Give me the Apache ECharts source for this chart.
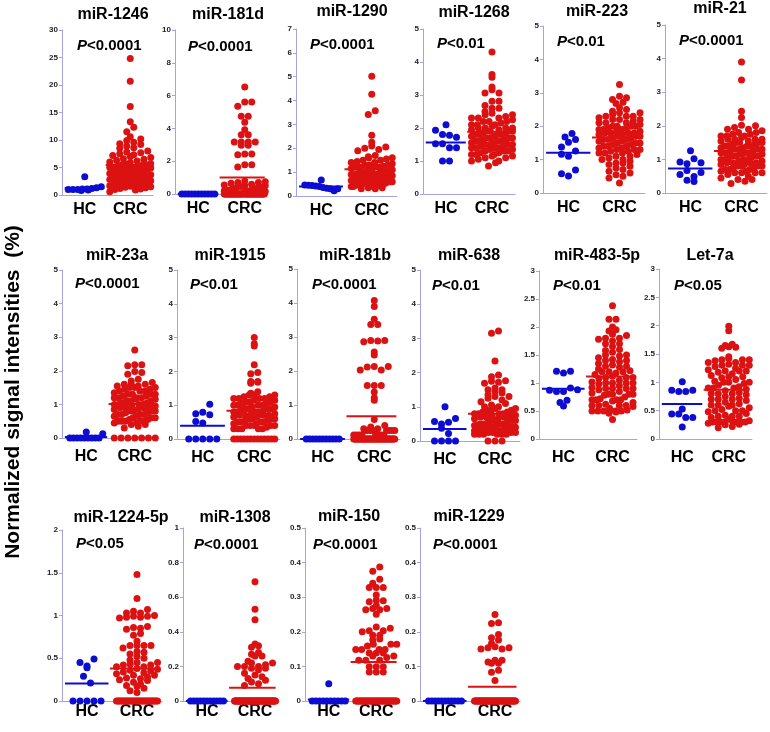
<!DOCTYPE html>
<html><head><meta charset="utf-8">
<script src="https://cdn.jsdelivr.net/npm/echarts@6/dist/echarts.min.js"></script>
<style>html,body{margin:0;padding:0;background:#fff}#c{width:770px;height:732px}</style>
</head><body><div id="c"></div>
<script>
// ---------- DATA ----------
const panelNames = ['miR-1246','miR-181d','miR-1290','miR-1268','miR-223','miR-21','miR-23a','miR-1915','miR-181b','miR-638','miR-483-5p','Let-7a','miR-1224-5p','miR-1308','miR-150','miR-1229'];
const pValues = ['<0.0001','<0.0001','<0.0001','<0.01','<0.01','<0.0001','<0.0001','<0.01','<0.0001','<0.01','<0.01','<0.05','<0.05','<0.0001','<0.0001','<0.0001'];
const yMaxes = [30,10,7,5,5,5,5,5,5,5,3,3,2,1,0.5,0.5];
const yIntervals = [5,2,1,1,1,1,1,1,1,1,0.5,0.5,0.5,0.2,0.1,0.1];
const groupLabels = ['HC','CRC'];

const hc_miR1246 = [0.8,0.9,1.0,1.0,1.0,1.1,1.1,1.2,1.3,1.5,3.3];
const crc_miR1246 = [24.8,20.7,16.1,13.3,12.3,11.5,10.6,10.2,9.9,9.6,9.3,9.2,8.9,8.6,8.5,
8.0,7.8,7.7,7.5,7.3,7.2,7.0,6.8,6.6,6.5,6.3,6.2,6.0,5.9,5.7,5.6,5.5,5.4,5.3,5.2,5.1,
5.0,4.9,4.8,4.7,4.6,4.5,4.4,4.3,4.2,4.1,4.0,3.9,3.8,3.7,3.6,3.5,3.4,3.3,3.2,3.1,3.0,
2.9,2.8,2.7,2.6,2.5,2.4,2.3,2.2,2.1,2.0,1.9,1.8,1.7,1.6,1.5,1.4,1.3,1.2,1.1,1.0,0.9,
5.5,5.0,4.5,4.0,3.5,3.0,3.9,3.5,3.0,0.6];

const hc_miR181d = [0,0,0,0,0,0,0,0,0,0,0];
const crc_miR181d = [6.52,5.61,5.61,5.35,4.74,4.74,4.37,3.92,3.62,3.62,3.17,3.17,3.17,3.17,2.97,2.97,2.44,2.44,2.4,1.79,1.79,1.65,
0.8,0.75,0.7,0.7,0.65,0.6,0.55,0.5,0.5,0.45,0.4,0.4,0.35,0.3,0.3,0.25,0.2,0.2,0.15,0.1,
0,0,0,0,0,0,0,0,0,0,0,0,0,0,0,0,0,0,0,0,0,0,0,0,0,0,0,0,0,0,0,0,0,0,0,0,0,0,0,0,0,0,0,0,0,0];

const hc_miR1290 = [0.67,0.46,0.45,0.44,0.42,0.40,0.36,0.32,0.30,0.22,0.30];
const crc_miR1290 = [5.02,4.26,3.57,3.42,2.55,2.25,2.1,2.05,2.0,1.95,1.9,
1.7,1.65,1.6,1.6,1.55,1.5,1.5,1.45,1.4,1.4,1.35,1.3,1.3,1.25,1.2,1.2,1.15,1.1,1.1,1.05,1.0,
1.0,0.95,0.95,0.9,0.9,0.85,0.85,0.8,0.8,0.75,0.75,0.7,0.7,0.65,0.65,0.6,0.6,0.55,0.55,0.5,0.5,
0.45,0.45,0.4,0.4,0.35,0.35,0.3,
1.2,1.1,1.0,1.0,0.9,0.9,0.8,1.3,1.2,1.1,1.0,0.9,0.8,0.7,0.6,0.6,0.5,0.5,0.4,0.4,0.3,0.7,0.7,0.6,0.6,0.5,0.5,0.65];

const hc_miR1268 = [2.1,1.93,1.8,1.78,1.72,1.52,1.52,1.4,1.4,1.0,1.0];
const crc_miR1268 = [4.3,3.62,3.54,3.24,3.16,3.06,3.06,2.81,2.81,2.68,2.6,2.6,
2.5,2.45,2.4,2.4,2.35,2.3,2.3,2.25,2.2,2.2,2.15,2.1,2.1,2.05,2.0,2.0,1.95,1.95,1.9,1.9,1.85,
1.85,1.8,1.8,1.75,1.75,1.7,1.7,1.65,1.65,1.6,1.6,1.55,1.55,1.5,1.5,1.45,1.45,1.4,1.4,1.35,1.35,
1.3,1.3,1.25,1.25,1.2,1.2,1.15,1.15,1.1,1.1,1.05,1.0,0.95,0.85,
2.3,2.1,2.0,1.9,1.8,1.7,1.6,1.5,1.4,1.3,2.2,2.0,1.9,1.8,1.7,1.6,1.5,1.4,1.2,1.0];

const hc_miR223 = [1.38,1.68,1.52,1.6,1.78,1.16,1.1,1.26,0.58,0.51,0.69];
const crc_miR223 = [3.25,2.9,2.85,2.8,2.72,2.68,2.55,2.5,
2.45,2.4,2.4,2.35,2.3,2.3,2.25,2.2,2.2,2.15,2.1,2.1,2.05,2.0,2.0,1.95,1.95,1.9,1.9,1.85,1.85,
1.8,1.8,1.75,1.75,1.7,1.7,1.65,1.65,1.6,1.6,1.55,1.55,1.5,1.5,1.45,1.45,1.4,1.4,1.35,1.35,1.3,
1.3,1.25,1.25,1.2,1.2,1.15,1.1,1.05,1.0,0.95,0.9,0.85,0.8,0.75,0.7,0.65,0.6,0.55,0.5,0.45,0.3,
2.3,2.1,2.0,1.9,1.8,1.7,1.6,1.5,1.4,1.3,1.2,1.1,1.0,0.9,2.2,2.0,1.8];

const hc_miR21 = [0.92,0.87,1.02,1.26,0.9,0.55,0.38,0.67,0.34,0.49,0.61];
const crc_miR21 = [3.9,3.36,2.43,2.25,2.02,2.0,1.95,1.9,1.9,
1.85,1.8,1.8,1.75,1.75,1.7,1.7,1.65,1.6,1.6,1.55,1.55,1.5,1.5,1.45,1.45,1.4,1.4,1.35,1.35,1.3,
1.3,1.25,1.25,1.2,1.2,1.15,1.15,1.1,1.1,1.05,1.05,1.0,1.0,0.95,0.95,0.9,0.9,0.85,0.85,0.8,0.8,
0.75,0.75,0.7,0.7,0.65,0.65,0.6,0.6,0.55,0.5,0.45,0.4,0.35,0.28,
1.7,1.6,1.5,1.4,1.3,1.2,1.1,1.0,0.9,0.8,0.7,0.6,1.6,1.5,1.4,1.3,1.2,1.1,1.0,0.9,0.8,0.6,0.4];

const hc_miR23a = [0,0,0,0,0,0,0,0,0,0.18,0.13];
const crc_miR23a = [0,0,0,0,0,0,0,2.62,2.18,2.18,2.15,1.98,1.95,1.9,
1.75,1.7,1.65,1.6,1.6,1.55,1.55,1.5,1.5,1.45,1.45,1.4,1.4,1.35,1.3,1.3,1.25,1.25,1.2,1.2,1.15,
1.15,1.1,1.1,1.05,1.05,1.0,1.0,0.95,0.95,0.9,0.9,0.85,0.85,0.8,0.8,0.75,0.75,0.7,0.7,0.65,0.65,
0.6,0.6,0.55,0.55,0.5,0.5,0.45,0.45,0.4,0.4,0.35,0.3,
1.6,1.5,1.4,1.3,1.2,1.1,1.0,0.9,0.8,0.7,1.3,1.2,1.0,0.9,0.8,0.7,0.6,0.5,0.5,0.5];

const hc_miR1915 = [0,0,0,0,0,0.75,0.52,0.79,0.47,0.72,1.03];
const crc_miR1915 = [0,0,0,0,0,0,0,0,0,0,0,0,0,
3.0,2.82,2.75,2.2,1.97,1.93,1.7,1.7,1.68,1.65,
1.4,1.35,1.3,1.3,1.25,1.25,1.2,1.2,1.15,1.15,1.1,1.1,1.05,1.05,1.0,1.0,0.95,0.95,0.9,0.9,0.85,
0.85,0.8,0.8,0.75,0.75,0.7,0.7,0.65,0.65,0.6,0.6,0.55,0.55,0.5,0.5,0.45,0.45,0.4,0.4,0.35,0.3,
1.3,1.2,1.1,1.0,0.9,0.8,0.7,0.6,0.5,0.4,1.2,1.0,0.9,0.8,0.7,0.6,0.5,0.4,0.4,0.3,0.3,0.3,0.3];

const hc_miR181b = [0,0,0,0,0,0,0,0,0,0,0];
const crc_miR181b = [4.07,3.9,3.52,3.37,3.37,2.9,2.9,2.88,2.86,2.56,2.47,2.13,2.13,2.12,2.03,2.03,1.57,1.57,1.57,1.38,1.21,1.14,
0.57,0.4,0.35,0.3,0.3,0.25,0.25,0.25,0.25,0.25,0.25,0.25,0.25,0.12,0.12,0.12,0.12,0.12,0.12,0.12,0.12,
0,0,0,0,0,0,0,0,0,0,0,0,0,0,0,0,0,0,0,0,0,0,0,0,0,0,0,0,0,0,0,0,0,0,0,0,0,0,0,0,0,0,0,0,0];

const hc_miR638 = [0,0,0,0,0.57,0.5,0.37,1.0,0.55,0.66,0.22];
const crc_miR638 = [0,0,0,3.22,3.15,2.34,1.93,1.88,1.76,1.75,1.72,1.69,
1.55,1.5,1.5,1.45,1.4,1.35,1.3,1.3,1.25,1.2,1.15,1.1,1.05,1.0,1.0,0.95,0.95,0.9,0.9,0.85,0.85,
0.8,0.8,0.75,0.75,0.7,0.7,0.65,0.65,0.6,0.6,0.55,0.55,0.5,0.5,0.45,0.45,0.4,0.4,0.35,0.35,0.3,
0.3,0.25,0.25,0.2,0.2,0.9,0.8,0.7,0.6,0.5,0.4,0.3,0.2,0.8,0.7,0.6,0.5,0.4,0.3,0.2,
0.6,0.5,0.4,0.35,0.3,0.25,0.2,0.5,0.45,0.4,0.35,0.3,0.25,0.2];

const hc_miR483 = [1.21,1.18,1.21,0.87,0.85,0.85,0.91,0.65,0.59,0.69,0.88];
const crc_miR483 = [2.38,2.14,2.14,2.0,1.95,1.93,1.87,
1.85,1.8,1.8,1.78,1.75,1.7,1.7,1.65,1.6,1.58,1.55,1.5,1.5,1.48,1.45,1.42,1.4,1.38,1.35,1.32,1.3,
1.28,1.25,1.22,1.2,1.18,1.15,1.12,1.1,1.08,1.05,1.02,1.0,0.98,0.95,0.92,0.9,0.88,0.85,0.82,0.8,0.78,
0.75,0.72,0.7,0.68,0.65,0.62,0.6,0.58,0.55,0.52,0.5,0.48,0.46,0.35,
1.3,1.2,1.1,1.0,0.9,0.8,0.7,0.6,0.5,1.4,1.2,1.0,0.9,0.8,0.7,0.6,0.5,1.1,1.0,0.9,0.8,0.7,0.6,0.5,0.5];

const hc_let7a = [0.86,0.84,1.01,0.84,0.86,0.44,0.44,0.38,0.38,0.53,0.21];
const crc_let7a = [1.99,1.91,1.67,1.65,1.63,1.62,1.6,
1.45,1.42,1.4,1.4,1.38,1.35,1.35,1.32,1.3,1.28,1.25,1.22,1.2,1.18,1.15,1.12,1.1,1.08,1.05,1.02,1.0,
0.98,0.95,0.92,0.9,0.88,0.85,0.82,0.8,0.78,0.75,0.72,0.7,0.68,0.65,0.62,0.6,0.58,0.55,0.52,0.5,0.48,
0.45,0.42,0.4,0.38,0.35,0.32,0.3,0.28,0.26,0.25,0.22,0.2,
1.4,1.3,1.2,1.1,1.0,0.9,0.8,0.7,0.6,0.5,0.4,0.3,1.3,1.2,1.0,0.9,0.8,0.7,0.6,0.5,0.4,0.3,0.3,0.3,0.3,0.3,0.3];

const hc_miR1224 = [0,0,0,0,0,0.45,0.39,0.41,0.49,0.29,0.21];
const crc_miR1224 = [0,0,0,0,0,0,0,0,0,0,0,0,0,0,0,0,0,0,0,0,0,0,0,0,0,0,0,0,0,0,
1.48,1.2,1.07,1.05,1.03,1.03,0.99,0.98,1.0,0.99,0.98,0.97,0.86,0.84,0.85,0.87,0.79,0.77,0.7,0.65,0.65,0.62,0.65,0.65,
0.58,0.57,0.55,0.52,0.5,0.48,0.45,0.45,0.43,0.42,0.42,0.4,0.4,0.38,0.37,0.36,0.35,0.34,0.33,0.32,0.3,0.3,0.28,0.27,0.26,0.25,0.24,0.22,0.2,0.18,0.17,0.15,0.12,0.1];

const hc_miR1308 = [0,0,0,0,0,0,0,0,0,0,0];
const crc_miR1308 = [0.69,0.53,0.47,0.33,0.32,0.31,0.28,0.27,0.26,0.26,0.23,0.22,0.22,0.21,0.2,0.2,0.2,0.19,0.19,0.18,0.16,0.15,0.14,0.13,0.12,0.11,0.1,0.09,
0,0,0,0,0,0,0,0,0,0,0,0,0,0,0,0,0,0,0,0,0,0,0,0,0,0,0,0,0,0,0,0,0,0,0,0,0,0,0,0,0,0,0,0,0,0,0,0,0,0,0,0,0,0,0,0,0,0,0,0];

const hc_miR150 = [0,0,0,0,0,0,0,0,0,0,0.05];
const crc_miR150 = [0.387,0.375,0.352,0.34,0.328,0.328,0.328,0.306,0.291,0.287,0.29,0.276,0.267,0.267,0.264,0.264,0.251,
0.214,0.21,0.203,0.203,0.2,0.19,0.19,0.179,0.176,0.164,0.164,0.164,0.159,
0.149,0.149,0.149,0.149,0.139,0.139,0.139,0.13,0.13,0.126,0.118,0.118,0.118,0.099,0.099,0.099,0.084,0.084,0.084,
0,0,0,0,0,0,0,0,0,0,0,0,0,0,0,0,0,0,0,0,0,0,0,0,0,0,0,0,0,0,0,0,0,0,0,0,0,0,0];

const hc_miR1229 = [0,0,0,0,0,0,0,0,0,0,0];
const crc_miR1229 = [0.25,0.226,0.224,0.192,0.183,0.176,0.166,0.157,0.154,0.154,0.15,0.15,0.118,0.118,0.113,0.109,0.109,0.089,0.083,0.059,
0,0,0,0,0,0,0,0,0,0,0,0,0,0,0,0,0,0,0,0,0,0,0,0,0,0,0,0,0,0,0,0,0,0,0,0,0,0,0,0,0,0,0,0,0,0,0,0,0,0,0,0];

const hcData = [hc_miR1246,hc_miR181d,hc_miR1290,hc_miR1268,hc_miR223,hc_miR21,hc_miR23a,hc_miR1915,hc_miR181b,hc_miR638,hc_miR483,hc_let7a,hc_miR1224,hc_miR1308,hc_miR150,hc_miR1229];
const crcData = [crc_miR1246,crc_miR181d,crc_miR1290,crc_miR1268,crc_miR223,crc_miR21,crc_miR23a,crc_miR1915,crc_miR181b,crc_miR638,crc_miR483,crc_let7a,crc_miR1224,crc_miR1308,crc_miR150,crc_miR1229];

// ---------- LAYOUT (px) ----------
// left, top, bottom, width, titleX, titleY, pX, pY, xLabelMargin
const layout = [
[62,30,195,91,113,15,77,46,7],
[175,30,194,93,228,15,188,47,7],
[296,29,196,101,352,12,310,45,7],
[423,29,194,92,474,13,437,44,7],
[543,26,193,102,597,12,557,42,7],
[665,25,193,102,720,9,679,41,7],
[62,270,438,97,117,256,75,284,11],
[177,270,439,103,230,256,190,285,11],
[297,269,439,103,355,256,312,285,11],
[420,270,441,100,469,256,432,286,11],
[539,271,439,98,597,256,553,286,11],
[659,269,439,93,710,256,674,286,11],
[62,530,701,100,121,518,76,544,3],
[183,528,701,96,235,518,194,545,3],
[305,528,701,95,349,517,313,545,3],
[420,528,701,100,469,517,433,545,3]
];

const FF = 'Arial, "Liberation Sans", sans-serif';
const AX = '#a4a4e2';
const BLUE = '#0c0cd2';
const RED = '#dc1212';
const DOT = 7, SP = 7;

// Column-scatter layout: values grouped into horizontal bins, spread side by side.
// keepOrder: keep input order inside a bin; otherwise interleave sorted values (zigzag).
function swarm(vals, center, pxY, pxX, maxW, binH, keepOrder) {
  const bins = new Map();
  const src = keepOrder ? vals.slice() : vals.slice().sort((a, b) => a - b);
  src.forEach(v => {
    const k = Math.round(v * pxY / binH);
    if (!bins.has(k)) bins.set(k, []);
    bins.get(k).push(v);
  });
  const out = [];
  bins.forEach(arr => {
    const n = arr.length;
    const sp = n > 1 ? Math.min(SP, maxW / (n - 1)) : 0;
    const half = Math.ceil(n / 2);
    arr.forEach((v, s) => {
      const slot = keepOrder ? s : (s % 2 === 0 ? s / 2 : half + (s - 1) / 2);
      out.push([center + (slot - (n - 1) / 2) * sp / pxX, v]);
    });
  });
  return out;
}
const mean = a => a.reduce((s, v) => s + v, 0) / a.length;

const grids = [], xAxes = [], yAxes = [], series = [], graphics = [];
layout.forEach((L, i) => {
  const [l, t, b, w, tx, ty, px, py, lm] = L;
  const h = b - t;
  grids.push({left: l, top: t, width: w, height: h});
  xAxes.push({gridIndex: i, type: 'value', min: 0, max: 4, interval: 1,
    axisLine: {show: true, onZero: false, lineStyle: {color: AX, width: 1}},
    axisTick: {show: false}, splitLine: {show: false},
    axisLabel: {margin: lm, fontSize: 16, fontWeight: 'bold', color: '#000', fontFamily: FF,
      showMinLabel: true, showMaxLabel: true,
      formatter: v => v === 1 ? groupLabels[0] : (v === 3 ? groupLabels[1] : '')}});
  yAxes.push({gridIndex: i, type: 'value', min: 0, max: yMaxes[i], interval: yIntervals[i],
    axisLine: {show: true, lineStyle: {color: AX, width: 1}},
    axisTick: {show: true, length: 3, lineStyle: {color: AX}},
    splitLine: {show: false},
    axisLabel: {fontSize: 8, fontWeight: 'bold', color: '#222', fontFamily: FF, margin: 4}});
  const pxY = h / yMaxes[i], pxX = w / 4;
  series.push({type: 'scatter', xAxisIndex: i, yAxisIndex: i, symbolSize: DOT, silent: true,
    itemStyle: {color: BLUE, opacity: 1}, data: swarm(hcData[i], 1, pxY, pxX, 33, 10, true)});
  series.push({type: 'scatter', xAxisIndex: i, yAxisIndex: i, symbolSize: DOT, silent: true,
    itemStyle: {color: RED, opacity: 1}, data: swarm(crcData[i], 3, pxY, pxX, 41, 6, false)});
  const mh = mean(hcData[i]), mc = mean(crcData[i]);
  series.push({type: 'line', xAxisIndex: i, yAxisIndex: i, symbol: 'none', silent: true, z: 5,
    lineStyle: {color: BLUE, width: 2}, data: [[0.12, mh], [1.86, mh]]});
  series.push({type: 'line', xAxisIndex: i, yAxisIndex: i, symbol: 'none', silent: true, z: 5,
    lineStyle: {color: RED, width: 2}, data: [[1.92, mc], [3.86, mc]]});
  graphics.push({type: 'text', x: tx, y: ty, silent: true,
    style: {text: panelNames[i], font: 'bold 16px ' + FF, fill: '#000', textAlign: 'center', textVerticalAlign: 'middle'}});
  graphics.push({type: 'text', x: px, y: py, silent: true,
    style: {text: '{i|P}' + pValues[i], font: 'bold 15px ' + FF, fill: '#000', textAlign: 'left', textVerticalAlign: 'middle',
      rich: {i: {fontStyle: 'italic', fontWeight: 'bold', fontSize: 15, fontFamily: FF, fill: '#000'}}}});
});
graphics.push({type: 'text', x: 13, y: 392, rotation: Math.PI / 2, silent: true,
  style: {text: 'Normalized signal intensities  (%)', font: 'bold 21px ' + FF, fill: '#000', textAlign: 'center', textVerticalAlign: 'middle'}});

const chart = echarts.init(document.getElementById('c'), null, {renderer: 'canvas'});
chart.setOption({animation: false, backgroundColor: '#fff', grid: grids, xAxis: xAxes, yAxis: yAxes, series: series, graphic: graphics});
</script></body></html>
